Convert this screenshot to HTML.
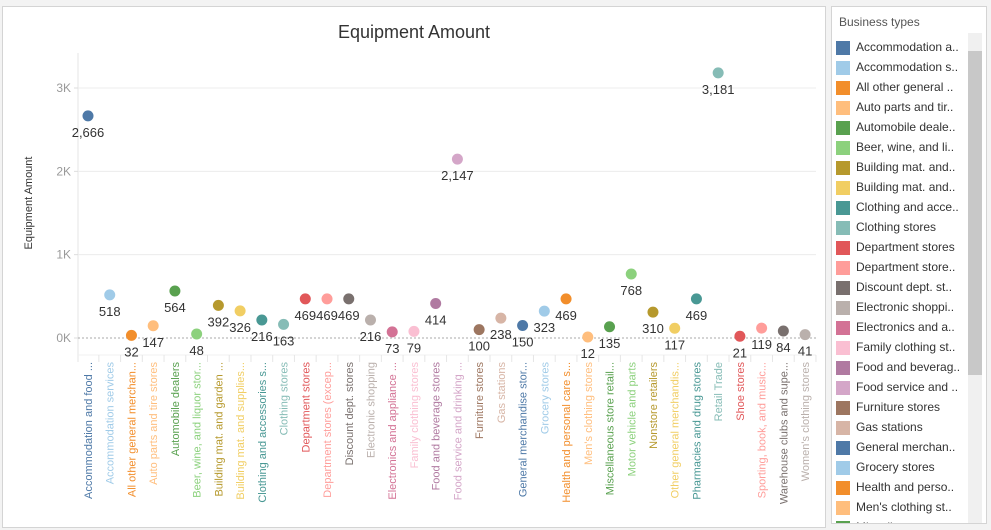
<!DOCTYPE html>
<html><head><meta charset="utf-8"><style>
body{margin:0;width:991px;height:530px;background:#f3f3f3;overflow:hidden;font-family:"Liberation Sans",sans-serif}
#panel{position:absolute;left:2px;top:6px;width:822px;height:520px;background:#fff;border:1px solid #d4d4d4}
#legend{position:absolute;left:831px;top:6px;width:154px;height:516px;background:#fff;border:1px solid #d4d4d4;overflow:hidden}
.li{position:absolute;left:4px;height:16px;font-size:12px;color:#333;white-space:nowrap}
.li span{display:inline-block;width:14px;height:14px;vertical-align:middle;margin-right:6px}
</style></head><body>
<div id="panel"></div>
<svg id="chart" width="991" height="530" style="position:absolute;left:0;top:0">
<text x="414" y="38" text-anchor="middle" font-size="18" fill="#333">Equipment Amount</text>
<text transform="translate(32,203) rotate(-90)" text-anchor="middle" font-size="11" fill="#333">Equipment Amount</text>
<g id="grid"></g><g id="marks"></g>
</svg>
<div id="legend">
<div style="position:absolute;left:7px;top:8px;font-size:12px;color:#555">Business types</div>
<div id="litems"></div>
<div style="position:absolute;left:136px;top:26px;width:14px;height:490px;background:#f0f0f0"><div style="position:absolute;left:0;top:18px;width:14px;height:324px;background:#c8c8c8"></div></div>
</div>
<script>
const categories=["Accommodation and food ...","Accommodation services","All other general merchan...","Auto parts and tire stores","Automobile dealers","Beer, wine, and liquor stor...","Building mat. and garden ...","Building mat. and supplies...","Clothing and accessories s...","Clothing stores","Department stores","Department stores (excep...","Discount dept. stores","Electronic shopping","Electronics and appliance ...","Family clothing stores","Food and beverage stores","Food service and drinking ...","Furniture stores","Gas stations","General merchandise stor...","Grocery stores","Health and personal care s...","Men's clothing stores","Miscellaneous store retail...","Motor vehicle and parts","Nonstore retailers","Other general merchandis...","Pharmacies and drug stores","Retail Trade","Shoe stores","Sporting, book, and music...","Warehouse clubs and supe...","Women's clothing stores"];
const values=[2666,518,32,147,564,48,392,326,216,163,469,469,469,216,73,79,414,2147,100,238,150,323,469,12,135,768,310,117,469,3181,21,119,84,41];
const yTicks=[0,1000,2000,3000];
const yTickLabels=["0K","1K","2K","3K"];
const legendLabels=["Accommodation a..","Accommodation s..","All other general ..","Auto parts and tir..","Automobile deale..","Beer, wine, and li..","Building mat. and..","Building mat. and..","Clothing and acce..","Clothing stores","Department stores","Department store..","Discount dept. st..","Electronic shoppi..","Electronics and a..","Family clothing st..","Food and beverag..","Food service and ..","Furniture stores","Gas stations","General merchan..","Grocery stores","Health and perso..","Men's clothing st..","Miscellaneous st.."];
const palette=["#4e79a7","#a0cbe8","#f28e2b","#ffbe7d","#59a14f","#8cd17d","#b6992d","#f1ce63","#499894","#86bcb6","#e15759","#ff9d9a","#79706e","#bab0ac","#d37295","#fabfd2","#b07aa1","#d4a6c8","#9d7660","#d7b5a6"];
const NS="http://www.w3.org/2000/svg";
const x0=88,step=21.73,yb=338,pxPerUnit=250/3000;
const xs=i=>x0+i*step, ys=v=>yb-v*pxPerUnit;
function mk(t,a,p){const e=document.createElementNS(NS,t);for(const k in a)e.setAttribute(k,a[k]);p.appendChild(e);return e;}
const grid=document.getElementById('grid'),marks=document.getElementById('marks');
mk('line',{x1:78,y1:53,x2:78,y2:362,stroke:'#e6e6e6'},grid);
yTicks.forEach((t,i)=>{
 const y=ys(t);
 const gl=mk('line',{x1:78,y1:y,x2:816,y2:y,stroke:t===0?'#aaa':'#ececec','stroke-dasharray':t===0?'2,2':''},grid);
 
 
 mk('line',{x1:74,y1:y,x2:78,y2:y,stroke:'#ddd'},grid);
 const tl=mk('text',{x:71,y:y+4,'text-anchor':'end','font-size':12,fill:'#999'},grid);tl.textContent=yTickLabels[i];
 
 
});
mk('line',{x1:78,y1:355,x2:816,y2:355,stroke:'#f0f0f0'},grid);
categories.forEach((c,i)=>{
 const x=xs(i),col=palette[i%palette.length];
 mk('line',{x1:x+step/2,y1:355,x2:x+step/2,y2:362,stroke:'#e6e6e6'},grid);
 const lab=mk('text',{transform:`translate(${x+4},${362}) rotate(-90)`,'text-anchor':'end','font-size':11,fill:col},grid);
 lab.textContent=c;
 
 
 const dot=mk('circle',{cx:x,cy:ys(values[i]),r:5.5,fill:col},marks);
 
 
 const vl=mk('text',{x:x,y:ys(values[i])+21,'text-anchor':'middle','font-size':13,fill:'#333'},marks);
 vl.textContent=values[i].toLocaleString('en-US');
 
 
});
const li=document.getElementById('litems');
legendLabels.forEach((l,i)=>{
 const d=document.createElement('div');d.className='li';d.style.top=(33+i*20)+'px';
 d.innerHTML=`<span style="background:${palette[i%palette.length]}"></span>${l}`;
 
 
 li.appendChild(d);
});
</script>
</body></html>
